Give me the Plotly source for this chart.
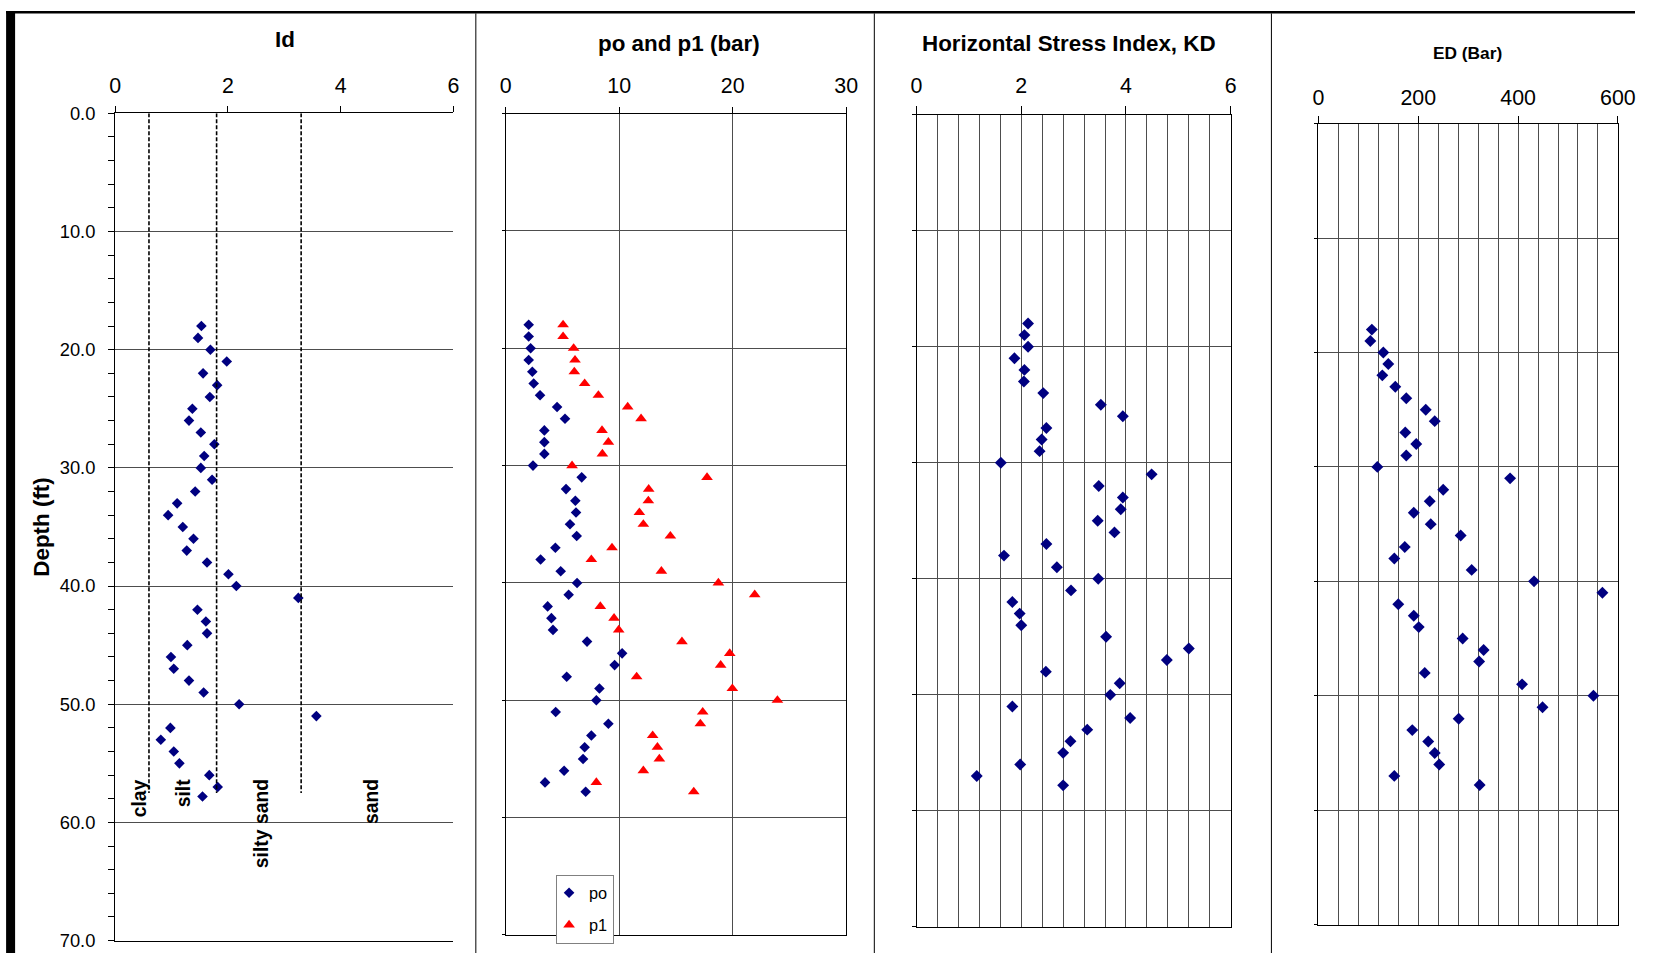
import plotly.graph_objects as go

# ---------------- data ----------------
depth_ft = [18, 19, 20, 21, 22, 23, 24, 25, 26, 27, 28, 29, 30,
            31, 32, 33, 34, 35, 36, 37, 38, 39, 40,
            41, 42, 43, 44, 45, 46, 47, 48, 49, 50,
            51, 52, 53, 54, 55, 56, 57, 57.8]

Id = [1.53, 1.47, 1.69, 1.98, 1.56, 1.81, 1.68, 1.37, 1.31, 1.52, 1.76, 1.58, 1.52,
      1.72, 1.42, 1.10, 0.94, 1.20, 1.39, 1.27, 1.63, 2.01, 2.15,
      3.25, 1.46, 1.61, 1.63, 1.28, 0.99, 1.04, 1.31, 1.57, 2.20,
      3.57, 0.98, 0.81, 1.04, 1.14, 1.67, 1.82, 1.55]

po = [2.03, 2.03, 2.20, 2.03, 2.35, 2.47, 3.03, 4.53, 5.23, 3.41, 3.41, 3.41, 2.41,
      6.70, 5.32, 6.14, 6.20, 5.67, 6.26, 4.38, 3.08, 4.85, 6.29,
      5.55, 3.70, 4.03, 4.17, 7.17, 10.26, 9.60, 5.38, 8.26, 7.99,
      4.41, 9.05, 7.55, 6.96, 6.82, 5.15, 3.47, 7.05]

p1 = [5.06, 5.06, 5.99, 6.11, 6.05, 6.96, 8.17, 10.75, 11.93, 8.49, 9.05, 8.52, 5.85,
      17.74, 12.60, 12.57, 11.78, 12.13, 14.51, 9.37, 7.55, 13.72, 18.74,
      21.94, 8.34, 9.55, 9.96, 15.53, 19.74, 18.94, 11.54, 19.97, 23.94,
      17.36, 17.15, 12.95, 13.37, 13.54, 12.13, 7.99, 16.57]

KD = [2.13, 2.06, 2.13, 1.87, 2.06, 2.05, 2.42, 3.52, 3.94, 2.48, 2.39, 2.35, 1.61,
      4.49, 3.48, 3.94, 3.90, 3.46, 3.78, 2.48, 1.67, 2.68, 3.47,
      2.95, 1.83, 1.97, 2.00, 3.62, 5.20, 4.78, 2.47, 3.88, 3.70,
      1.83, 4.08, 3.26, 2.94, 2.80, 1.98, 1.15, 2.80]

ED = [107, 104, 130, 140, 128, 154, 176, 215, 233, 174, 196, 176, 118,
      384, 250, 223, 191, 225, 285, 173, 152, 307, 432,
      569, 160, 191, 201, 289, 331, 322, 213, 408, 551,
      449, 281, 188, 220, 233, 242, 152, 323]

# soil classification boundaries on Id (Marchetti) and how deep they are drawn
id_boundaries = [0.6, 1.8, 3.3]
boundary_depth = [0, 57.5]
soil_labels = ["clay", "silt", "silty sand", "sand"]
soil_label_x = [0.42, 1.20, 2.59, 4.54]
soil_label_depth = 56.2

# ---------------- page geometry ----------------
# Positions below are given in picture pixels; the viewer maps figure pixel f
# to picture pixel O + S*f, so convert back.
FW, FH = 1653, 963
SX, SY = 0.985, 0.979
OXI, OYI = 5.9, 9.6
K = 1 / 0.982          # size compensation for the viewer scaling


def px(x):
    return ((x - OXI) / SX) / FW


def py(y):
    return 1 - ((y - OYI) / SY) / FH


FONT = "Liberation Sans, Arial, sans-serif"
NAVY = "#000080"
GRID = "#4d4d4d"

fig = go.Figure()

fig.add_trace(go.Scatter(x=Id, y=depth_ft, mode="markers", name="Id",
                         marker=dict(symbol="diamond", size=8 * K, color=NAVY),
                         xaxis="x", yaxis="y", showlegend=False))
fig.add_trace(go.Scatter(x=po, y=depth_ft, mode="markers", name="po",
                         marker=dict(symbol="diamond", size=8 * K, color=NAVY),
                         xaxis="x2", yaxis="y2", legendgroup="a"))
fig.add_trace(go.Scatter(x=p1, y=depth_ft, mode="markers", name="p1",
                         marker=dict(symbol="triangle-up", size=10 * K, color="#FF0000"),
                         xaxis="x2", yaxis="y2", legendgroup="b"))
fig.add_trace(go.Scatter(x=KD, y=depth_ft, mode="markers", name="KD",
                         marker=dict(symbol="diamond", size=9 * K, color=NAVY),
                         xaxis="x3", yaxis="y3", showlegend=False))
fig.add_trace(go.Scatter(x=ED, y=depth_ft, mode="markers", name="ED",
                         marker=dict(symbol="diamond", size=9 * K, color=NAVY),
                         xaxis="x4", yaxis="y4", showlegend=False))

tickfont = dict(family=FONT, size=21 * K, color="black")


def xax(dom, rng, dtick, anchor, standoff, ticklen=6, grid=False, minor=None):
    d = dict(domain=dom, range=rng, side="top", dtick=dtick, tick0=0,
             ticks="outside", ticklen=ticklen * K, tickcolor="black", tickwidth=1,
             showline=True, linecolor="black", linewidth=1, mirror=True,
             showgrid=grid, gridcolor=GRID, gridwidth=1, zeroline=False,
             tickfont=tickfont, anchor=anchor, fixedrange=True,
             ticklabelstandoff=standoff)
    if minor:
        d["minor"] = minor
    return d


def yax(dom, anchor, labels=False, ticklen=3, mirror=True, **kw):
    d = dict(domain=dom, range=[70, 0], dtick=10, tick0=0,
             ticks="outside", ticklen=ticklen * K, tickcolor="black",
             showline=True, linecolor="black", linewidth=1, mirror=mirror,
             showgrid=True, gridcolor=GRID, gridwidth=1, zeroline=False,
             showticklabels=labels, anchor=anchor, fixedrange=True)
    d.update(kw)
    return d


# plot areas, in picture pixels -> paper
d1x = [px(115), px(453)];     d1y = [py(940), py(112)]
d2x = [px(505.3), px(845.7)]; d2y = [py(934.3), py(112.3)]
d3x = [px(916), px(1230)];    d3y = [py(926.3), py(113.3)]
d4x = [px(1317.7), px(1617)]; d4y = [py(924), py(122.3)]

fig.update_layout(
    width=FW, height=FH, autosize=False,
    margin=dict(l=0, r=0, t=0, b=0, pad=0),
    paper_bgcolor="white", plot_bgcolor="white",
    font=dict(family=FONT, color="black"),
    xaxis=xax(d1x, [0, 6], 2, "y", 5),
    yaxis=yax(d1y, "x", labels=True, ticklen=6, mirror=False,
              tickformat=".1f", tickfont=dict(family=FONT, size=18 * K, color="black"),
              ticklabelstandoff=9,
              minor=dict(dtick=2, ticks="outside", ticklen=6 * K, tickcolor="black",
                         showgrid=False),
              title=dict(text="<b>Depth (ft)</b>", standoff=3,
                         font=dict(family=FONT, size=22 * K, color="black"))),
    xaxis2=xax(d2x, [0, 30], 10, "y2", 5, grid=True),
    yaxis2=yax(d2y, "x2"),
    xaxis3=xax(d3x, [0, 6], 2, "y3", 5, ticklen=7, grid=True,
               minor=dict(dtick=0.4, showgrid=True, gridcolor=GRID, gridwidth=1)),
    yaxis3=yax(d3y, "x3"),
    xaxis4=xax(d4x, [0, 600], 200, "y4", 3, grid=True,
               minor=dict(dtick=40, showgrid=True, gridcolor=GRID, gridwidth=1)),
    yaxis4=yax(d4y, "x4"),
    showlegend=True,
    legend=dict(x=px(555.7), y=py(874), xanchor="left", yanchor="top",
                bgcolor="white", bordercolor="#808080", borderwidth=1,
                font=dict(family=FONT, size=16 * K, color="black"),
                traceorder="grouped", tracegroupgap=8, itemwidth=30,
                indentation=-8),
)

# panel titles
titles = [("<b>Id</b>", 284.7, 37.7, 22),
          ("<b>po and p1 (bar)</b>", 678.3, 41.7, 22),
          ("<b>Horizontal Stress Index, KD</b>", 1068, 41.7, 22),
          ("<b>ED (Bar)</b>", 1466.7, 52, 17)]
for text, x, y, s in titles:
    fig.add_annotation(text=text, x=px(x), y=py(y), xref="paper", yref="paper",
                       xanchor="center", yanchor="middle", showarrow=False,
                       font=dict(family=FONT, size=s * K, color="black"))

# soil boundaries (dashed) in Id panel
for b in id_boundaries:
    fig.add_shape(type="line", xref="x", yref="y", x0=b, x1=b,
                  y0=boundary_depth[0], y1=boundary_depth[1],
                  line=dict(color="black", width=1.6, dash="4px,2px"))

for lab, xv in zip(soil_labels, soil_label_x):
    fig.add_annotation(text="<b>%s</b>" % lab, x=xv, y=soil_label_depth,
                       xref="x", yref="y", textangle=-90,
                       xanchor="center", yanchor="top", showarrow=False,
                       font=dict(family=FONT, size=19 * K, color="black"))


# frame around the figure / separators between the four charts
def rect(x0, y0, x1, y1, color):
    fig.add_shape(type="rect", xref="paper", yref="paper",
                  x0=max(px(x0), 0), x1=min(px(x1), 1),
                  y0=max(py(y1), 0), y1=min(py(y0), 1),
                  line=dict(width=0), fillcolor=color, layer="above")


def vline(x, y0, y1, color="black", width=1):
    fig.add_shape(type="line", xref="paper", yref="paper",
                  x0=px(x), x1=px(x), y0=max(py(y1), 0), y1=min(py(y0), 1),
                  line=dict(color=color, width=width), layer="above")


rect(6, 0, 1653, 12, "black")          # top bar
rect(6, 0, 15, 963, "black")           # left bar
vline(475.5, 12, 963)
vline(873.8, 12, 963)
vline(1270.7, 12, 963)

fig.write_html("out.html",
               config={"displayModeBar": False, "responsive": False},
               post_script="document.body.style.margin='0';"
                           "document.body.style.overflow='hidden';")
